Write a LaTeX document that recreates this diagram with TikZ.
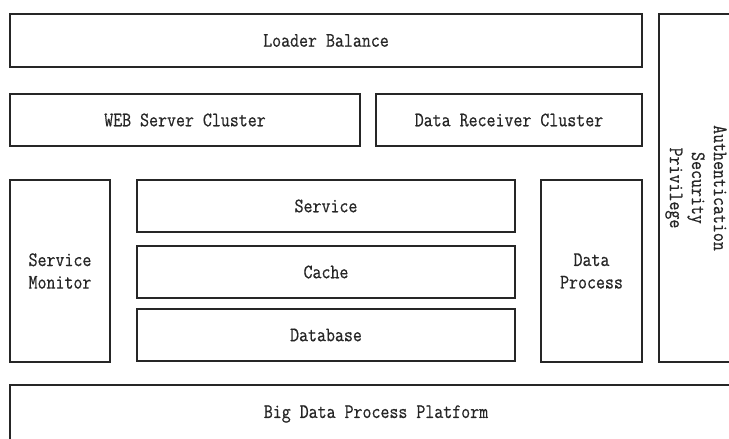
\documentclass[tikz,border=0pt]{standalone}
\usepackage{fontspec}
\setmainfont[FakeStretch=0.85,FakeBold=0.6]{Latin Modern Mono}
\begin{document}
\begin{tikzpicture}[x=1pt,y=-1pt,
  blk/.style={draw=black!85, line width=1.4pt, inner sep=0pt, align=center,
    font=\fontsize{20.5}{22.5}\selectfont, text=black!85}]
\useasboundingbox (0,0) rectangle (729,439);
\clip (0,0) rectangle (729,439);
\node[blk, minimum width=632pt, minimum height=53pt] (lb) at (326,40.5) {Loader Balance};
\node[blk, minimum width=350pt, minimum height=52pt] (web) at (185,120) {WEB Server Cluster};
\node[blk, minimum width=266pt, minimum height=52pt] (drc) at (509,120) {Data Receiver Cluster};
\node[blk, minimum width=100pt, minimum height=182pt] (sm) at (60,271) {Service\\Monitor};
\node[blk, minimum width=378pt, minimum height=52pt] (svc) at (326,206) {Service};
\node[blk, minimum width=378pt, minimum height=52pt] (cache) at (326,272) {Cache};
\node[blk, minimum width=378pt, minimum height=52pt] (db) at (326,335) {Database};
\node[blk, minimum width=101pt, minimum height=182pt] (dp) at (591.5,271) {Data\\Process};
\node[blk, minimum width=76pt, minimum height=348pt] (auth) at (697,188) {};
\node[align=center, rotate=-90, font=\fontsize{20.5}{22}\selectfont, text=black!85] (authtxt) at (696,188) {Authentication\\Security\\Privilege};
\node[blk, minimum width=732pt, minimum height=58pt] (bdp) at (376,414) {Big Data Process Platform};
\end{tikzpicture}
\end{document}
